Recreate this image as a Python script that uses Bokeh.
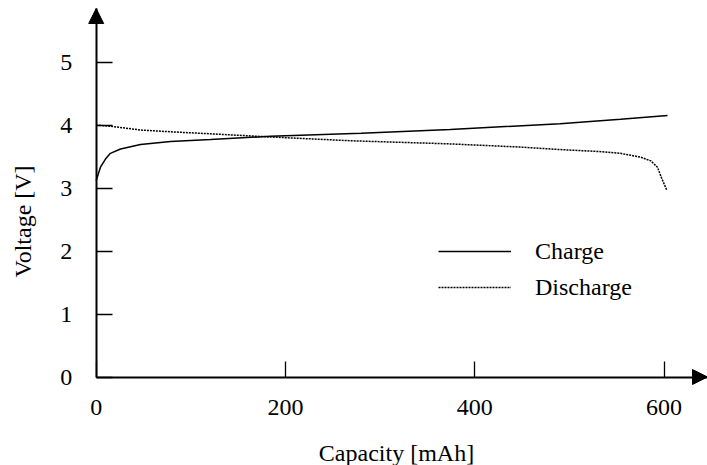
from bokeh.plotting import figure
from bokeh.models import (Range1d, FixedTicker, Arrow, NormalHead,
                          Legend, LegendItem)
from bokeh.core.properties import value
from bokeh.embed import file_html
from bokeh.resources import INLINE

# ---- data ----
charge_x = [0, 4.5, 9.8, 15, 25.7, 46.8, 78.5, 120.8, 184, 280, 374, 490, 554, 603.6]
charge_v = [3.12, 3.33, 3.46, 3.55, 3.62, 3.69, 3.74, 3.77, 3.82, 3.87, 3.93, 4.02, 4.09, 4.15]

discharge_x = [0, 15, 46.8, 81.7, 121, 184, 269, 374, 448, 490, 530, 554, 575, 586, 593, 597, 603]
discharge_v = [4.0, 3.98, 3.92, 3.89, 3.86, 3.81, 3.75, 3.70, 3.65, 3.61, 3.58, 3.55, 3.49, 3.43, 3.33, 3.17, 2.96]

x_ticks = [0, 200, 400, 600]
y_ticks = [0, 1, 2, 3, 4, 5]
x_label = "Capacity [mAh]"
y_label = "Voltage [V]"
series_names = ["Charge", "Discharge"]

FONT = "Liberation Serif"
FS = "24px"

W, H = 707, 465
X0_PX, Y0_PX = 95.7, 376.5      # where the origin sits in the picture
PX_PER_X, PX_PER_Y = 0.9465, 63.0
X_MIN = -X0_PX / PX_PER_X
X_MAX = (W - X0_PX) / PX_PER_X
Y_MIN = -(H - Y0_PX) / PX_PER_Y
Y_MAX = Y0_PX / PX_PER_Y
Y_TIP = (Y0_PX - 8) / PX_PER_Y


def to_data(px, py):
    return (px - X0_PX) / PX_PER_X, (Y0_PX - py) / PX_PER_Y


p = figure(frame_width=W, frame_height=H,
           min_border_left=0, min_border_right=0,
           min_border_top=0, min_border_bottom=0,
           x_range=Range1d(X_MIN, X_MAX), y_range=Range1d(Y_MIN, Y_MAX),
           output_backend="svg", toolbar_location=None)
p.outline_line_color = None
p.xgrid.visible = False
p.ygrid.visible = False
p.background_fill_color = "white"
p.border_fill_color = "white"

xa = p.xaxis[0]
ya = p.yaxis[0]
xa.fixed_location = 0
ya.fixed_location = 0
xa.bounds = (0, X_MAX)
ya.bounds = (0, Y_TIP)

for ax, ticks in ((xa, x_ticks), (ya, y_ticks)):
    ax.ticker = FixedTicker(ticks=ticks)
    ax.minor_tick_line_color = None
    ax.major_tick_in = 16
    ax.major_tick_out = 0
    ax.major_tick_line_width = 1.3
    ax.major_tick_line_color = "black"
    ax.axis_line_width = 2
    ax.axis_line_color = "black"
    ax.major_label_text_font = FONT
    ax.major_label_text_font_size = FS
    ax.major_label_text_color = "black"
xa.major_label_standoff = 23
ya.major_label_standoff = 24

r1 = p.line(charge_x, charge_v, line_color="black", line_width=1.5)
r2 = p.line(discharge_x, discharge_v, line_color="black", line_width=1.5,
            line_dash="2 1")

# axis arrow heads
head = dict(size=15, fill_color="black", line_color="black")
p.add_layout(Arrow(x_start=0, y_start=0, x_end=X_MAX, y_end=0, line_alpha=0,
                   end=NormalHead(**head)))
p.add_layout(Arrow(x_start=0, y_start=0, x_end=0, y_end=Y_TIP, line_alpha=0,
                   end=NormalHead(**head)))

# axis titles (text glyphs, placed where the reference shows them)
xl_x, xl_y = to_data(396, 452)
yl_x, yl_y = to_data(22, 221)
p.text(x=[xl_x], y=[xl_y], text=[x_label], text_font=value(FONT),
       text_font_size=FS, text_color="black", text_align="center",
       text_baseline="middle")
p.text(x=[yl_x], y=[yl_y], text=[y_label], angle=90, angle_units="deg",
       text_font=value(FONT), text_font_size=FS, text_color="black",
       text_align="center", text_baseline="middle")

legend = Legend(items=[LegendItem(label=series_names[0], renderers=[r1]),
                       LegendItem(label=series_names[1], renderers=[r2])],
                location=(438, H - 305), glyph_width=73, glyph_height=36,
                label_height=36, label_standoff=24, spacing=0, padding=0, margin=0,
                border_line_alpha=0, background_fill_alpha=0,
                label_text_font=FONT, label_text_font_size=FS, label_text_color="black")
p.add_layout(legend)

open("out.html", "w").write(file_html(p, INLINE))
